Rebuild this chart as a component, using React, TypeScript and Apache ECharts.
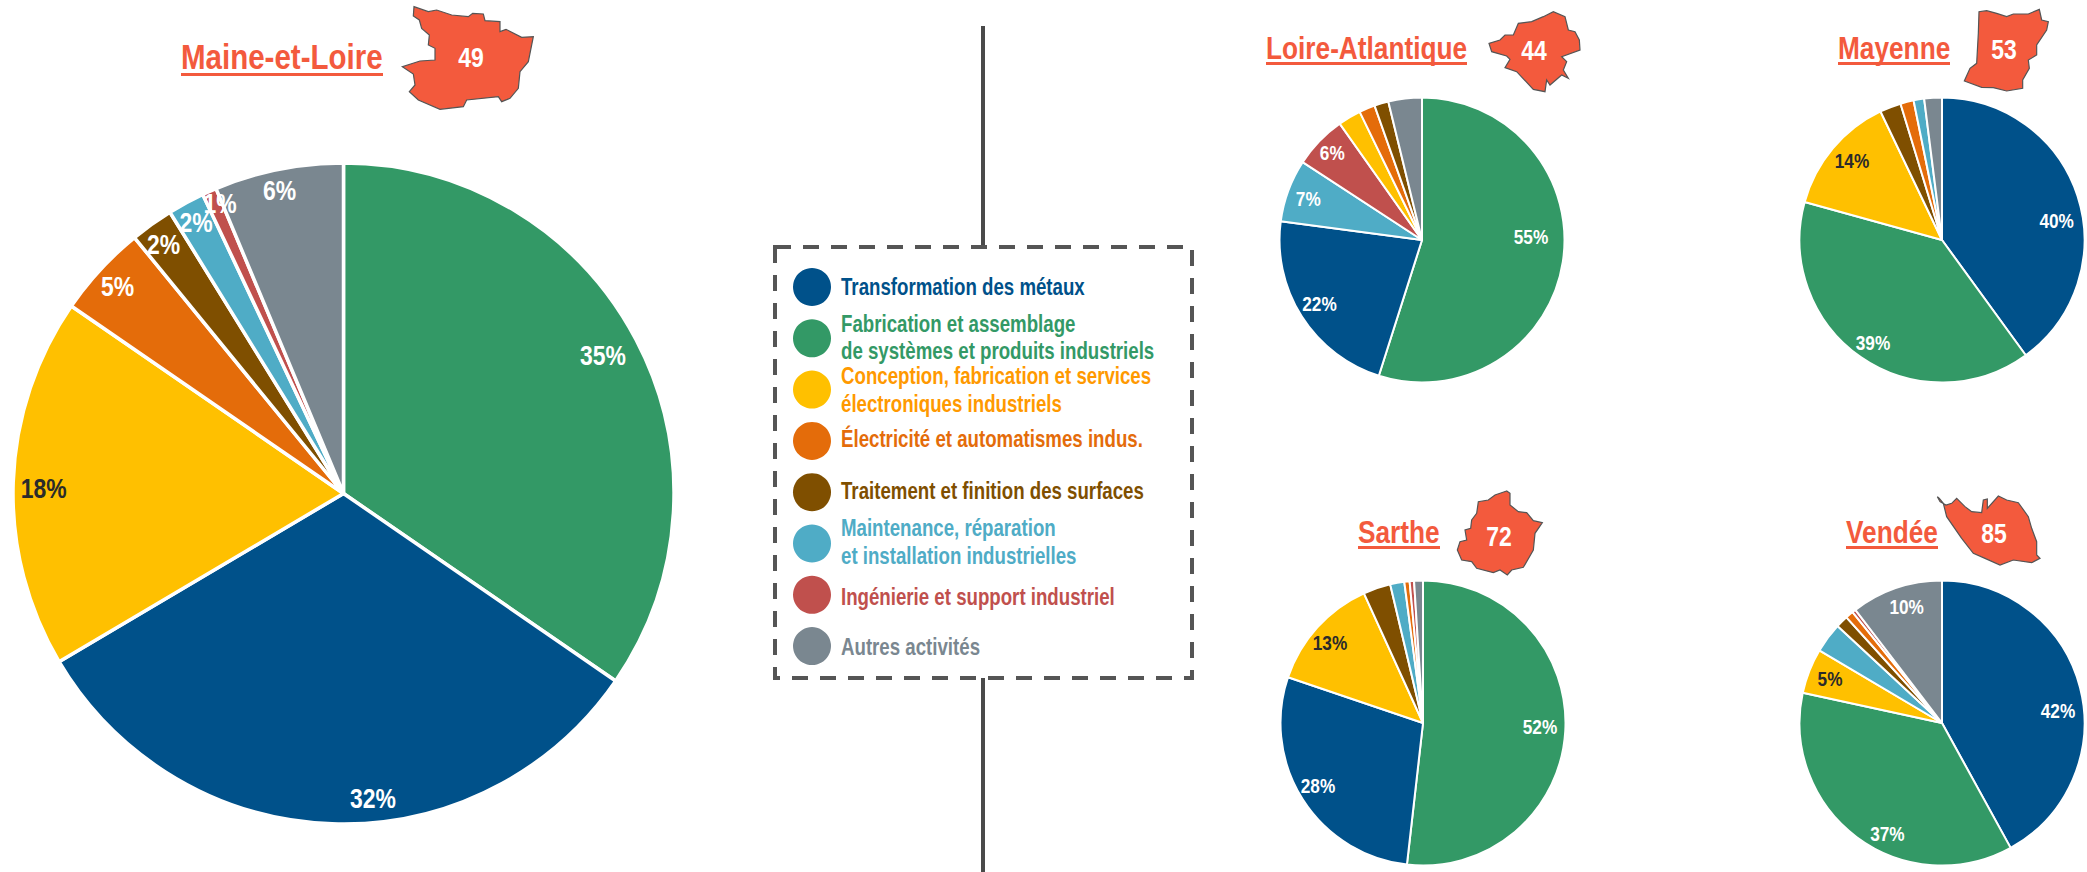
import React, { useEffect, useRef } from "react";
import * as echarts from "echarts";

const FONT = "'Liberation Sans', Arial, sans-serif";
const NARROW = 0.82;
const ACCENT = "#F35A3D";

const categories = [
  "Transformation des métaux",
  "Fabrication et assemblage\nde systèmes et produits industriels",
  "Conception, fabrication et services\nélectroniques industriels",
  "Électricité et automatismes indus.",
  "Traitement et finition des surfaces",
  "Maintenance, réparation\net installation industrielles",
  "Ingénierie et support industriel",
  "Autres activités",
];
const sliceColors = ["#00518A", "#339966", "#FFC000", "#E46C0A", "#7F4F00", "#4FACC6", "#C0504D", "#7A8790"];
const legendTextColors = ["#00518A", "#339966", "#FF9900", "#E46C0A", "#7F4F00", "#4FACC6", "#C0504D", "#7A8790"];
const legendTextOffsets = [0, -1, 0, -2, -1, -2, 2, 1];

// Slices run clockwise from 12 o'clock; order holds indexes into categories.
const maineOrder = [1, 0, 2, 3, 4, 5, 6, 7];
const maineValues = [34.6, 31.9, 18.1, 4.5, 2.1, 1.8, 0.7, 6.3];
const maineLabels = ["35%", "32%", "18%", "5%", "2%", "2%", "1%", "6%"];

const loireOrder = [1, 0, 5, 6, 2, 3, 4, 7];
const loireValues = [54.9, 22.2, 7.1, 6, 2.6, 1.8, 1.6, 3.8];
const loireLabels = ["55%", "22%", "7%", "6%"];

const mayenneOrder = [0, 1, 2, 4, 3, 5, 7];
const mayenneValues = [40, 39.3, 13.6, 2.4, 1.5, 1.2, 2];
const mayenneLabels = ["40%", "39%", "14%"];

const sartheOrder = [1, 0, 2, 4, 5, 3, 6, 7];
const sartheValues = [51.8, 28.4, 13, 3.1, 1.6, 0.6, 0.5, 1];
const sartheLabels = ["52%", "28%", "13%"];

const vendeeOrder = [0, 1, 2, 5, 4, 3, 6, 7];
const vendeeValues = [42, 36.4, 5.1, 3.4, 1.4, 0.9, 0.4, 10.4];
const vendeeLabels = ["42%", "37%", "5%", "10%"];

// Label anchors, in pixels from each pie's centre (styling, not data).
const mainLabelPos = [[259.5, -138], [29.5, 305], [-299.8, -5], [-226, -207], [-180, -249.5], [-147.5, -271.8], [-123.5, -290], [-64, -303.5]];
const loireLabelPos = [[109, -3], [-102.5, 64], [-113.7, -41], [-89.7, -86.7]];
const mayenneLabelPos = [[114.7, -19], [-69, 102.5], [-90, -79]];
const sartheLabelPos = [[117, 4], [-105, 62.5], [-93, -80]];
const vendeeLabelPos = [[116, -12], [-54.6, 110.5], [-112, -44], [-35.3, -116.3]];

const pies = [
  { name: "Maine-et-Loire", order: maineOrder, values: maineValues, labels: maineLabels, labelPos: mainLabelPos, center: [343.5, 493.5], r: 330.5, font: 28, border: 3.5 },
  { name: "Loire-Atlantique", order: loireOrder, values: loireValues, labels: loireLabels, labelPos: loireLabelPos, center: [1422, 240], r: 142.5, font: 21, border: 2 },
  { name: "Mayenne", order: mayenneOrder, values: mayenneValues, labels: mayenneLabels, labelPos: mayenneLabelPos, center: [1942, 240], r: 142.5, font: 21, border: 2 },
  { name: "Sarthe", order: sartheOrder, values: sartheValues, labels: sartheLabels, labelPos: sartheLabelPos, center: [1423, 723], r: 142.5, font: 21, border: 2 },
  { name: "Vendée", order: vendeeOrder, values: vendeeValues, labels: vendeeLabels, labelPos: vendeeLabelPos, center: [1942, 723], r: 142.5, font: 21, border: 2 },
];

const darkLabels = ["18%", "14%", "13%", "5%"];

const titles = [
  { text: "Maine-et-Loire", x: 181, y: 56, size: 36, uw: 202, uy: 73 },
  { text: "Loire-Atlantique", x: 1266, y: 48, size: 32, uw: 201, uy: 62 },
  { text: "Mayenne", x: 1838, y: 48, size: 32, uw: 112, uy: 62 },
  { text: "Sarthe", x: 1358, y: 532, size: 32, uw: 82, uy: 546 },
  { text: "Vendée", x: 1846, y: 532, size: 32, uw: 92, uy: 546 },
];

// Department outlines, traced in 3x zoom pixels around an origin.
const shapes = [
  {
    code: "49", ox: 150, oy: 0, lx: 471, ly: 57,
    pts: [[792,20],[790,48],[808,60],[815,85],[838,105],[835,135],[855,145],[855,180],[810,183],[757,200],[790,222],[795,255],[778,275],[805,300],[870,328],[940,320],[950,300],[1045,290],[1055,305],[1080,295],[1105,265],[1110,215],[1135,185],[1150,110],[1115,112],[1068,88],[1050,95],[1050,65],[1005,62],[1000,42],[968,40],[955,50],[905,45],[860,30],[835,35]],
  },
  {
    code: "44", ox: 1250, oy: 0, lx: 1534, ly: 50,
    pts: [[717,130],[725,155],[770,168],[780,178],[765,203],[800,215],[850,268],[885,275],[890,240],[900,255],[935,225],[955,235],[940,210],[950,185],[935,170],[990,150],[988,120],[975,95],[955,90],[945,50],[910,35],[880,50],[845,65],[805,70],[790,105],[765,105],[750,120]],
  },
  {
    code: "53", ox: 1780, oy: 0, lx: 2004, ly: 49,
    pts: [[597,35],[595,100],[590,190],[570,205],[553,243],[605,262],[640,263],[680,273],[728,265],[728,240],[748,205],[745,180],[770,165],[770,135],[800,90],[805,65],[785,60],[778,28],[745,42],[700,42],[680,50],[650,40],[620,32]],
  },
  {
    code: "72", ox: 1330, oy: 490, lx: 1499, ly: 536,
    pts: [[530,3],[495,15],[475,30],[445,35],[440,70],[425,90],[422,115],[405,120],[410,150],[390,155],[382,180],[395,210],[425,215],[440,235],[490,248],[510,240],[532,255],[545,240],[580,232],[610,180],[615,130],[637,98],[610,92],[590,68],[565,65],[540,45],[540,10]],
  },
  {
    code: "85", ox: 1780, oy: 480, lx: 1994, ly: 533,
    pts: [[472,50],[480,65],[498,75],[515,70],[530,55],[555,80],[575,95],[605,98],[610,60],[622,57],[622,85],[655,48],[680,60],[715,68],[745,110],[755,145],[770,185],[770,225],[780,235],[755,248],[700,240],[660,255],[615,235],[580,220],[545,175],[500,110],[490,70],[478,55]],
  },
];

const LEGEND_CX = 812;
const LEGEND_TX = 841;
const LEGEND_FIRST_Y = 287;
const LEGEND_STEP = 51.3;
const LEGEND_FONT = 23;
const LEGEND_LINE = 27.7;

function narrowText(text: string, x: number, y: number, size: number, fill: string, align: string, scale = NARROW) {
  return {
    type: "text",
    x,
    y,
    scaleX: scale,
    z: 10,
    silent: true,
    style: {
      text,
      fill,
      font: `bold ${size}px ${FONT}`,
      textAlign: align,
      textVerticalAlign: "middle",
    },
  };
}

function buildOption() {
  const series = pies.map((p) => ({
    type: "pie",
    name: p.name,
    center: p.center,
    radius: [0, p.r],
    startAngle: 90,
    clockwise: true,
    avoidLabelOverlap: false,
    silent: true,
    itemStyle: { borderColor: "#FFFFFF", borderWidth: p.border },
    labelLine: { show: false },
    label: { show: false },
    data: p.values.map((value, i) => ({
      name: categories[p.order[i]],
      value,
      itemStyle: { color: sliceColors[p.order[i]] },
    })),
  }));

  const graphic: any[] = [
    { type: "rect", shape: { x: 981, y: 26, width: 4, height: 222 }, style: { fill: "#4A4A4A" } },
    { type: "rect", shape: { x: 981, y: 678, width: 4, height: 194 }, style: { fill: "#4A4A4A" } },
    {
      type: "rect",
      shape: { x: 775, y: 247, width: 417, height: 431 },
      style: { fill: "none", stroke: "#555555", lineWidth: 4, lineDash: [16, 12] },
    },
  ];

  categories.forEach((name, i) => {
    const cy = LEGEND_FIRST_Y + i * LEGEND_STEP;
    graphic.push({ type: "circle", shape: { cx: LEGEND_CX, cy, r: 19 }, style: { fill: sliceColors[i] } });
    const lines = name.split("\n");
    lines.forEach((line, j) => {
      const y = cy + legendTextOffsets[i] + (j - (lines.length - 1) / 2) * LEGEND_LINE;
      graphic.push(narrowText(line, LEGEND_TX, y, LEGEND_FONT, legendTextColors[i], "left", 0.812));
    });
  });

  pies.forEach((p) => {
    p.labels.forEach((label, i) => {
      const [dx, dy] = p.labelPos[i];
      const fill = darkLabels.includes(label) && !(label === "5%" && p.name === "Maine-et-Loire") ? "#2B2B2B" : "#FFFFFF";
      graphic.push(narrowText(label, p.center[0] + dx, p.center[1] + dy, p.font, fill, "center"));
    });
  });

  titles.forEach((t) => {
    graphic.push(narrowText(t.text, t.x, t.y, t.size, ACCENT, "left"));
    graphic.push({ type: "rect", shape: { x: t.x, y: t.uy, width: t.uw, height: 3 }, style: { fill: ACCENT } });
  });

  shapes.forEach((s) => {
    graphic.push({
      type: "polygon",
      shape: { points: s.pts.map(([x, y]) => [s.ox + x / 3, s.oy + y / 3]) },
      style: { fill: ACCENT, stroke: "#555555", lineWidth: 1.2 },
    });
    graphic.push(narrowText(s.code, s.lx, s.ly, 28, "#FFFFFF", "center"));
  });

  return { animation: false, backgroundColor: "#FFFFFF", series, graphic };
}

export default function App() {
  const ref = useRef<HTMLDivElement>(null);
  useEffect(() => {
    const chart = echarts.init(ref.current!, undefined, { renderer: "svg" });
    chart.setOption(buildOption() as any);
    return () => chart.dispose();
  }, []);
  return <div ref={ref} style={{ position: "absolute", left: 0, top: 0, width: 2087, height: 872 }} />;
}
